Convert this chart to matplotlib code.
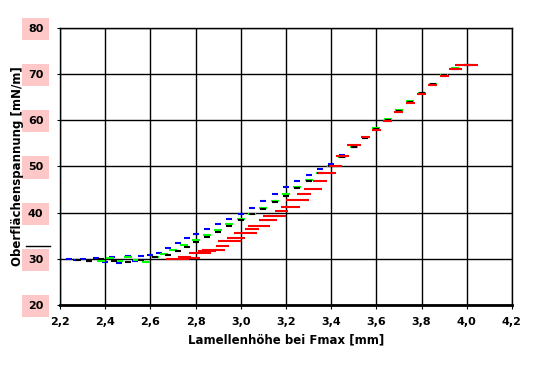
import numpy as np
import matplotlib.pyplot as plt
from matplotlib.lines import Line2D

# series (x = Lamellenhoehe [mm], y = Oberflaechenspannung [mN/m])
blue_x = [2.24, 2.27, 2.30, 2.33, 2.36, 2.40, 2.43, 2.46, 2.50, 2.53, 2.56, 2.60, 2.64, 2.68,
          2.72, 2.76, 2.80, 2.85, 2.90, 2.95, 3.00, 3.05, 3.10, 3.15, 3.20, 3.25, 3.30, 3.35,
          3.40, 3.45, 3.50, 3.55, 3.60, 3.65, 3.70, 3.75, 3.80, 3.85, 3.90, 3.95, 4.00, 4.03]
blue_y = [30.0, 29.8, 29.9, 29.5, 30.2, 29.4, 30.4, 29.2, 30.6, 29.6, 30.7, 30.8, 31.3, 32.3,
          33.5, 34.4, 35.3, 36.5, 37.6, 38.7, 39.8, 41.1, 42.6, 44.1, 45.6, 46.9, 48.1, 49.4,
          50.6, 52.4, 54.3, 56.2, 58.0, 59.9, 61.9, 63.9, 65.8, 67.6, 69.5, 71.0, 72.0, 72.0]

green_x = [2.38, 2.42, 2.46, 2.50, 2.54, 2.58, 2.62, 2.66, 2.70, 2.75, 2.80, 2.85, 2.90,
           2.95, 3.00, 3.05, 3.10, 3.15, 3.20, 3.25, 3.30, 3.35, 3.40, 3.45, 3.50, 3.55,
           3.60, 3.65, 3.70, 3.75, 3.80, 3.85, 3.90, 3.95, 4.00]
green_y = [29.5, 30.1, 29.6, 30.3, 29.8, 29.4, 30.4, 31.0, 32.0, 33.0, 34.1, 35.2, 36.3,
           37.5, 38.6, 39.8, 41.0, 42.5, 44.0, 45.5, 47.1, 48.6, 50.0, 52.0, 54.2, 56.3,
           58.3, 60.2, 62.2, 64.1, 66.0, 67.9, 69.8, 71.3, 72.0]

black_x = [2.28, 2.33, 2.38, 2.44, 2.50, 2.56, 2.62, 2.68, 2.72, 2.76, 2.80, 2.85, 2.90,
           2.95, 3.00, 3.05, 3.10, 3.15, 3.20, 3.25, 3.30, 3.35, 3.40, 3.45, 3.50, 3.55,
           3.60, 3.65, 3.70, 3.75, 3.80, 3.85, 3.90, 3.95, 4.00]
black_y = [29.7, 29.5, 29.9, 29.6, 29.3, 29.8, 30.3, 30.9, 31.6, 32.6, 33.6, 34.7, 35.8,
           37.0, 38.3, 39.6, 40.8, 42.2, 43.7, 45.3, 46.9, 48.5, 50.0, 52.1, 54.2, 56.2,
           58.2, 60.1, 62.1, 64.0, 65.9, 67.8, 69.7, 71.2, 72.0]

red_x = [2.72, 2.75, 2.78, 2.82, 2.85, 2.88, 2.92, 2.95, 2.98, 3.02, 3.05, 3.08, 3.12,
         3.15, 3.18, 3.22, 3.25, 3.28, 3.32, 3.35, 3.38, 3.42, 3.45, 3.50, 3.55, 3.60,
         3.65, 3.70, 3.75, 3.80, 3.85, 3.90, 3.95, 4.00]
red_y = [30.0, 30.5, 30.2, 31.2, 31.6, 32.0, 32.8, 33.8, 34.6, 35.6, 36.5, 37.2, 38.4,
         39.3, 40.4, 41.2, 42.8, 44.0, 45.2, 46.8, 48.5, 50.0, 52.3, 54.6, 56.4, 58.0,
         59.9, 61.8, 63.8, 65.7, 67.6, 69.5, 71.0, 72.0]
red_err = [0.05, 0.03, 0.04, 0.05, 0.04, 0.05, 0.03, 0.05, 0.04, 0.05, 0.03, 0.05, 0.04,
           0.05, 0.03, 0.04, 0.05, 0.03, 0.04, 0.03, 0.04, 0.03, 0.03, 0.03, 0.02, 0.02,
           0.02, 0.02, 0.02, 0.02, 0.02, 0.02, 0.03, 0.05]

x_ticks = [2.2, 2.4, 2.6, 2.8, 3.0, 3.2, 3.4, 3.6, 3.8, 4.0, 4.2]
y_ticks = [20, 30, 40, 50, 60, 70, 80]

fig = plt.figure(figsize=(5.36, 3.66), dpi=100)
ax = fig.add_axes([0.112, 0.1667, 0.843, 0.757])

ax.plot(blue_x, blue_y, ls='none', marker='_', ms=5, mew=1.5, color='#0000ff')
ax.plot(green_x, green_y, ls='none', marker='_', ms=6, mew=1.5, color='#00ff00')
ax.plot(black_x, black_y, ls='none', marker='_', ms=5, mew=1.5, color='black')
ax.errorbar(red_x, red_y, xerr=red_err, ls='none', ecolor='#ff0000', elinewidth=1.5, capsize=0)

ax.set_xlim(2.2, 4.2)
ax.set_ylim(20, 80)
ax.set_xticks(x_ticks)
ax.set_yticks(y_ticks)
ax.set_xticklabels([f"{v:.1f}".replace('.', ',') for v in x_ticks], fontsize=8, fontweight='bold')
ax.set_yticklabels([str(v) for v in y_ticks], fontsize=8, fontweight='bold')
for lab in ax.get_yticklabels():
    lab.set_bbox(dict(boxstyle='square,pad=0.55', facecolor='#ffc8c8', edgecolor='none'))
ax.tick_params(axis='y', length=2, pad=10, color='black')
ax.tick_params(axis='x', length=3, pad=6, color='black')

ax.grid(True, color='black', lw=1)
ax.set_axisbelow(True)
for s in ax.spines.values():
    s.set_color('black')
    s.set_linewidth(1)
ax.spines['bottom'].set_linewidth(2)

ax.set_xlabel("Lamellenhöhe bei Fmax [mm]", fontsize=8.5, fontweight='bold', labelpad=4)
ax.set_ylabel("Oberflächenspannung [mN/m]", fontsize=8.5, fontweight='bold')
ax.yaxis.set_label_coords(-0.08, 0.5)

# small stray stroke left of the axis, as in the original export
ax.add_line(Line2D([-0.075, -0.022], [0.213, 0.213], transform=ax.transAxes,
                   color='black', lw=1, clip_on=False))

fig.savefig("out.png", dpi=100)
